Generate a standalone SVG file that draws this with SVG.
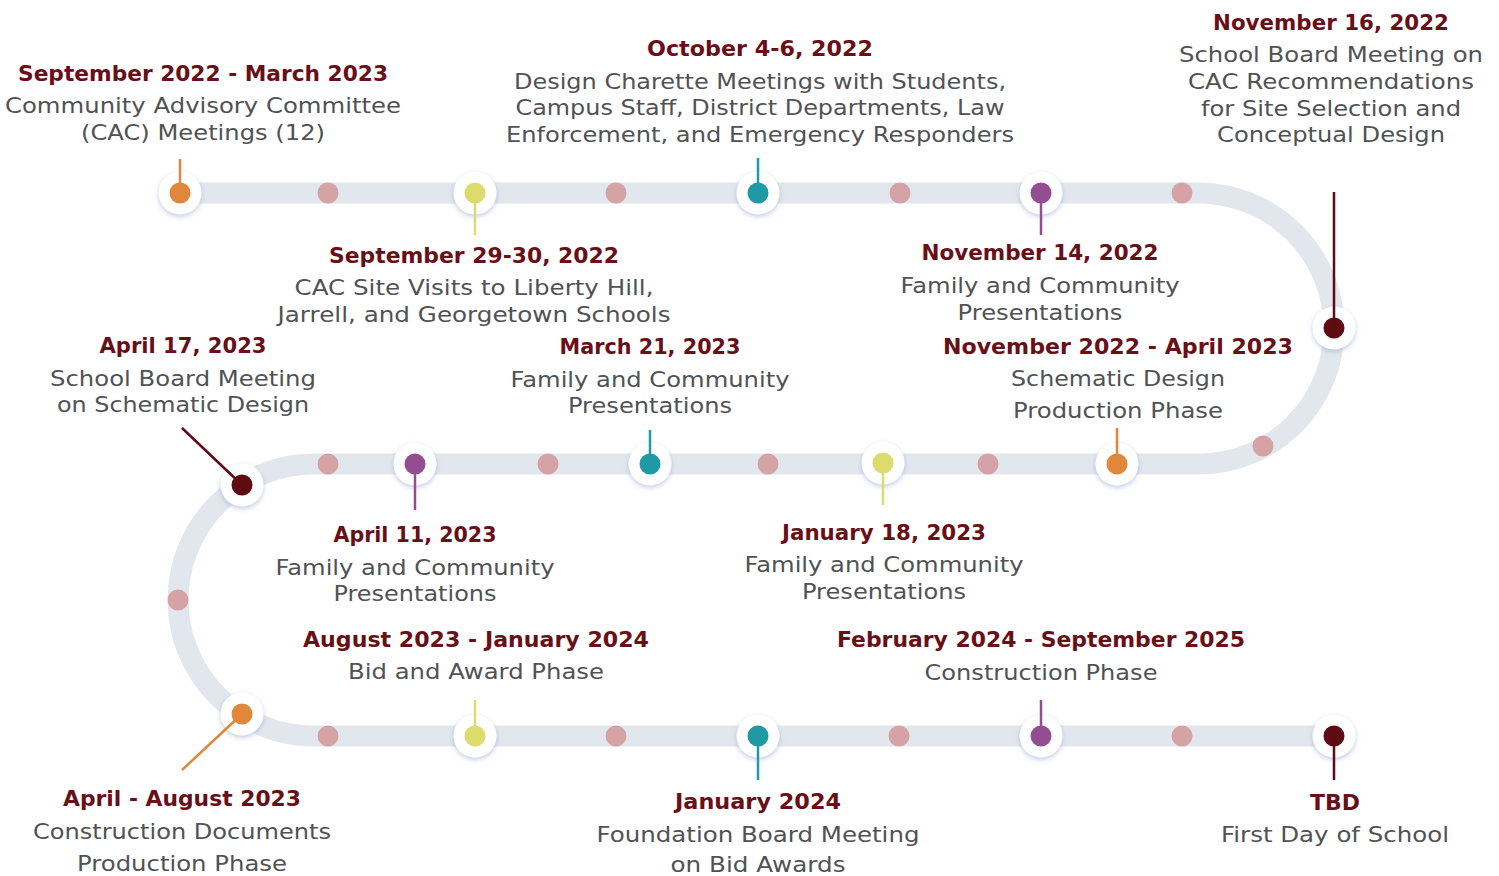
<svg xmlns="http://www.w3.org/2000/svg" width="1499" height="876" viewBox="0 0 1499 876">
<style>
.t{font-family:"DejaVu Sans","Liberation Sans",sans-serif;font-weight:bold;font-size:22px;fill:#6a0e17;text-anchor:middle}
.b{font-family:"DejaVu Sans","Liberation Sans",sans-serif;font-size:21.5px;fill:#505254;text-anchor:middle}
.ring{fill:#ffffff;filter:url(#sh)}
.pd{fill:#d5a2a5}
.or{fill:#e0873a}.ye{fill:#dcdc6e}.te{fill:#1f9aa5}.pu{fill:#944d92}.ma{fill:#5e0b14}
.s{stroke-width:2.5;fill:none}
</style>
<defs>
<filter id="sh" x="-50%" y="-50%" width="200%" height="200%">
<feDropShadow dx="0" dy="2" stdDeviation="2.5" flood-color="#7f96c4" flood-opacity="0.5"/>
</filter>
</defs>
<rect width="1499" height="876" fill="#ffffff"/>
<g id="track">
<path d="M180 193 H1198.5 A135.5 135.5 0 0 1 1198.5 464 H314 A136 136 0 0 0 314 736 H1334" fill="none" stroke="#e2e7ee" stroke-width="21"/>
<g class="pd">
<circle cx="328" cy="193" r="10.5"/><circle cx="616" cy="193" r="10.5"/><circle cx="900" cy="193" r="10.5"/><circle cx="1182" cy="193" r="10.5"/>
<circle cx="1263" cy="446" r="10.5"/>
<circle cx="988" cy="464" r="10.5"/><circle cx="768" cy="464" r="10.5"/><circle cx="548" cy="464" r="10.5"/><circle cx="328" cy="464" r="10.5"/>
<circle cx="178" cy="600" r="10.5"/>
<circle cx="328" cy="736" r="10.5"/><circle cx="616" cy="736" r="10.5"/><circle cx="899" cy="736" r="10.5"/><circle cx="1182" cy="736" r="10.5"/>
</g>
</g>
<g id="n1"><circle class="ring" cx="180" cy="193" r="21.5"/><circle class="or" cx="180" cy="193" r="10.5"/>
<text class="t" x="203" y="81" textLength="370" lengthAdjust="spacingAndGlyphs">September 2022 - March 2023</text>
<text class="b" x="203" y="113" textLength="396" lengthAdjust="spacingAndGlyphs">Community Advisory Committee</text>
<text class="b" x="203" y="140" textLength="244" lengthAdjust="spacingAndGlyphs">(CAC) Meetings (12)</text></g>
<g id="n2"><circle class="ring" cx="475" cy="193" r="21.5"/><circle class="ye" cx="475" cy="193" r="10.5"/>
<text class="t" x="474" y="263" textLength="290" lengthAdjust="spacingAndGlyphs">September 29-30, 2022</text>
<text class="b" x="474" y="295" textLength="359" lengthAdjust="spacingAndGlyphs">CAC Site Visits to Liberty Hill,</text>
<text class="b" x="474" y="322" textLength="393" lengthAdjust="spacingAndGlyphs">Jarrell, and Georgetown Schools</text></g>
<g id="n3"><circle class="ring" cx="758" cy="193" r="21.5"/><circle class="te" cx="758" cy="193" r="10.5"/>
<text class="t" x="760" y="56" textLength="226" lengthAdjust="spacingAndGlyphs">October 4-6, 2022</text>
<text class="b" x="760" y="89" textLength="492" lengthAdjust="spacingAndGlyphs">Design Charette Meetings with Students,</text>
<text class="b" x="760" y="115" textLength="489" lengthAdjust="spacingAndGlyphs">Campus Staff, District Departments, Law</text>
<text class="b" x="760" y="142" textLength="508" lengthAdjust="spacingAndGlyphs">Enforcement, and Emergency Responders</text></g>
<g id="n4"><circle class="ring" cx="1041" cy="193" r="21.5"/><circle class="pu" cx="1041" cy="193" r="10.5"/>
<text class="t" x="1040" y="260" textLength="237" lengthAdjust="spacingAndGlyphs">November 14, 2022</text>
<text class="b" x="1040" y="293" textLength="279" lengthAdjust="spacingAndGlyphs">Family and Community</text>
<text class="b" x="1040" y="320" textLength="165" lengthAdjust="spacingAndGlyphs">Presentations</text></g>
<g id="n5"><circle class="ring" cx="1334" cy="328" r="21.5"/><circle class="ma" cx="1334" cy="328" r="10.5"/>
<text class="t" x="1331" y="30" textLength="236" lengthAdjust="spacingAndGlyphs">November 16, 2022</text>
<text class="b" x="1331" y="62" textLength="304" lengthAdjust="spacingAndGlyphs">School Board Meeting on</text>
<text class="b" x="1331" y="89" textLength="286" lengthAdjust="spacingAndGlyphs">CAC Recommendations</text>
<text class="b" x="1331" y="116" textLength="260" lengthAdjust="spacingAndGlyphs">for Site Selection and</text>
<text class="b" x="1331" y="142" textLength="228" lengthAdjust="spacingAndGlyphs">Conceptual Design</text></g>
<g id="n6"><circle class="ring" cx="1117" cy="464" r="21.5"/><circle class="or" cx="1117" cy="464" r="10.5"/>
<text class="t" x="1118" y="354" textLength="350" lengthAdjust="spacingAndGlyphs">November 2022 - April 2023</text>
<text class="b" x="1118" y="386" textLength="214" lengthAdjust="spacingAndGlyphs">Schematic Design</text>
<text class="b" x="1118" y="418" textLength="210" lengthAdjust="spacingAndGlyphs">Production Phase</text></g>
<g id="n7"><circle class="ring" cx="883" cy="463" r="21.5"/><circle class="ye" cx="883" cy="463" r="10.5"/>
<text class="t" x="884" y="540" textLength="204" lengthAdjust="spacingAndGlyphs">January 18, 2023</text>
<text class="b" x="884" y="572" textLength="279" lengthAdjust="spacingAndGlyphs">Family and Community</text>
<text class="b" x="884" y="599" textLength="164" lengthAdjust="spacingAndGlyphs">Presentations</text></g>
<g id="n8"><circle class="ring" cx="650" cy="464" r="21.5"/><circle class="te" cx="650" cy="464" r="10.5"/>
<text class="t" x="650" y="354" textLength="181" lengthAdjust="spacingAndGlyphs">March 21, 2023</text>
<text class="b" x="650" y="387" textLength="279" lengthAdjust="spacingAndGlyphs">Family and Community</text>
<text class="b" x="650" y="413" textLength="164" lengthAdjust="spacingAndGlyphs">Presentations</text></g>
<g id="n9"><circle class="ring" cx="415" cy="464" r="21.5"/><circle class="pu" cx="415" cy="464" r="10.5"/>
<text class="t" x="415" y="542" textLength="163" lengthAdjust="spacingAndGlyphs">April 11, 2023</text>
<text class="b" x="415" y="575" textLength="279" lengthAdjust="spacingAndGlyphs">Family and Community</text>
<text class="b" x="415" y="601" textLength="163" lengthAdjust="spacingAndGlyphs">Presentations</text></g>
<g id="n10"><circle class="ring" cx="242" cy="485" r="21.5"/><circle class="ma" cx="242" cy="485" r="10.5"/>
<text class="t" x="183" y="353" textLength="167" lengthAdjust="spacingAndGlyphs">April 17, 2023</text>
<text class="b" x="183" y="386" textLength="266" lengthAdjust="spacingAndGlyphs">School Board Meeting</text>
<text class="b" x="183" y="412" textLength="252" lengthAdjust="spacingAndGlyphs">on Schematic Design</text></g>
<g id="n11"><circle class="ring" cx="242" cy="714" r="21.5"/><circle class="or" cx="242" cy="714" r="10.5"/>
<text class="t" x="182" y="806" textLength="238" lengthAdjust="spacingAndGlyphs">April - August 2023</text>
<text class="b" x="182" y="839" textLength="298" lengthAdjust="spacingAndGlyphs">Construction Documents</text>
<text class="b" x="182" y="871" textLength="210" lengthAdjust="spacingAndGlyphs">Production Phase</text></g>
<g id="n12"><circle class="ring" cx="475" cy="736" r="21.5"/><circle class="ye" cx="475" cy="736" r="10.5"/>
<text class="t" x="476" y="647" textLength="346" lengthAdjust="spacingAndGlyphs">August 2023 - January 2024</text>
<text class="b" x="476" y="679" textLength="256" lengthAdjust="spacingAndGlyphs">Bid and Award Phase</text></g>
<g id="n13"><circle class="ring" cx="758" cy="736" r="21.5"/><circle class="te" cx="758" cy="736" r="10.5"/>
<text class="t" x="758" y="809" textLength="166" lengthAdjust="spacingAndGlyphs">January 2024</text>
<text class="b" x="758" y="842" textLength="323" lengthAdjust="spacingAndGlyphs">Foundation Board Meeting</text>
<text class="b" x="758" y="872" textLength="175" lengthAdjust="spacingAndGlyphs">on Bid Awards</text></g>
<g id="n14"><circle class="ring" cx="1041" cy="736" r="21.5"/><circle class="pu" cx="1041" cy="736" r="10.5"/>
<text class="t" x="1041" y="647" textLength="408" lengthAdjust="spacingAndGlyphs">February 2024 - September 2025</text>
<text class="b" x="1041" y="680" textLength="233" lengthAdjust="spacingAndGlyphs">Construction Phase</text></g>
<g id="n15"><circle class="ring" cx="1334" cy="736" r="21.5"/><circle class="ma" cx="1334" cy="736" r="10.5"/>
<text class="t" x="1335" y="810" textLength="50" lengthAdjust="spacingAndGlyphs">TBD</text>
<text class="b" x="1335" y="842" textLength="228" lengthAdjust="spacingAndGlyphs">First Day of School</text></g>
<g id="connectors" class="s">
<line x1="180" y1="159" x2="180" y2="193" stroke="#e0873a"/>
<line x1="475" y1="193" x2="475" y2="235" stroke="#dcdc6e"/>
<line x1="758" y1="158" x2="758" y2="193" stroke="#1f9aa5"/>
<line x1="1041" y1="193" x2="1041" y2="235" stroke="#944d92"/>
<line x1="1334" y1="192" x2="1334" y2="328" stroke="#5e0b14"/>
<line x1="1117" y1="428" x2="1117" y2="464" stroke="#e0873a"/>
<line x1="883" y1="463" x2="883" y2="505" stroke="#dcdc6e"/>
<line x1="650" y1="430" x2="650" y2="464" stroke="#1f9aa5"/>
<line x1="415" y1="464" x2="415" y2="510" stroke="#944d92"/>
<line x1="182" y1="428" x2="242" y2="485" stroke="#5e0b14"/>
<line x1="242" y1="714" x2="182" y2="770" stroke="#e0873a"/>
<line x1="475" y1="700" x2="475" y2="736" stroke="#dcdc6e"/>
<line x1="758" y1="736" x2="758" y2="780" stroke="#1f9aa5"/>
<line x1="1041" y1="700" x2="1041" y2="736" stroke="#944d92"/>
<line x1="1334" y1="736" x2="1334" y2="780" stroke="#5e0b14"/>
</g>
</svg>
